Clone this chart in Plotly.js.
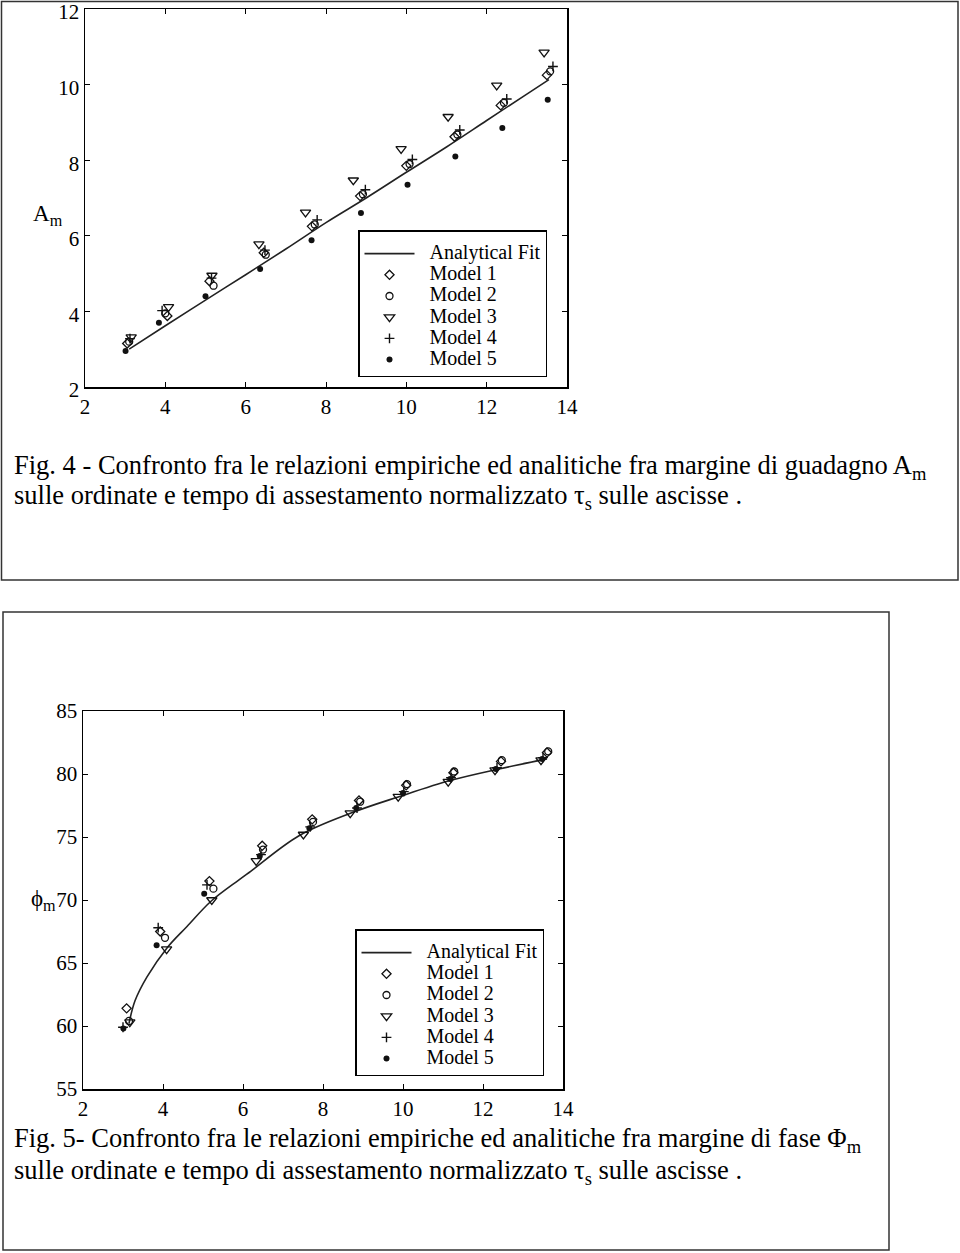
<!DOCTYPE html>
<html><head><meta charset="utf-8">
<script src="https://cdn.plot.ly/plotly-3.0.1.min.js"></script>
<style>html,body{margin:0;padding:0;background:#fff;} #chart{width:960px;height:1253px;}</style>
</head><body><div id="chart"></div>
<script>
// ---------- Fig. 4 : gain margin A_m vs normalized settling time tau_s ----------
const fit1X = [3.1, 4.0, 5.0, 6.0, 7.0, 8.0, 9.0, 10.0, 11.0, 12.0, 13.0, 13.55];
const fit1Y = [3.0, 3.62, 4.3, 4.97, 5.65, 6.35, 7.0, 7.68, 8.35, 9.05, 9.75, 10.13];
const a_m1X = [3.05, 4.05, 5.1, 6.45, 7.65, 8.85, 10.0, 11.2, 12.35, 13.5];
const a_m1Y = [3.15, 3.88, 4.8, 5.55, 6.25, 7.05, 7.85, 8.62, 9.45, 10.25];
const a_m2X = [3.1, 4.0, 5.2, 6.5, 7.72, 8.92, 10.08, 11.27, 12.43, 13.58];
const a_m2Y = [3.2, 3.95, 4.68, 5.5, 6.3, 7.1, 7.9, 8.68, 9.52, 10.35];
const a_m3X = [3.15, 4.08, 5.16, 6.33, 7.49, 8.68, 9.87, 11.04, 12.25, 13.43];
const a_m3Y = [3.32, 4.12, 4.95, 5.78, 6.62, 7.47, 8.3, 9.15, 9.98, 10.85];
const a_m4X = [3.12, 3.92, 5.15, 6.48, 7.78, 8.98, 10.15, 11.33, 12.5, 13.65];
const a_m4Y = [3.28, 4.02, 4.88, 5.62, 6.42, 7.22, 8.02, 8.8, 9.62, 10.48];
const a_m5X = [3.01, 3.84, 5.0, 6.36, 7.64, 8.87, 10.03, 11.22, 12.39, 13.52];
const a_m5Y = [2.95, 3.7, 4.4, 5.12, 5.88, 6.6, 7.35, 8.1, 8.85, 9.6];

// ---------- Fig. 5 : phase margin Phi_m vs normalized settling time tau_s ----------
const fit2X = [3.15, 3.3, 3.6, 4.1, 4.6, 5.2, 5.9, 6.2, 7.4, 8.7, 9.9, 11.2, 12.4, 13.6];
const fit2Y = [60.2, 62.0, 63.9, 66.2, 67.9, 69.9, 71.6, 72.3, 75.1, 76.9, 78.2, 79.5, 80.4, 81.2];
const p_m1X = [3.09, 3.93, 5.16, 6.48, 7.73, 8.9, 10.08, 11.26, 12.45, 13.6];
const p_m1Y = [61.4, 67.5, 71.5, 74.3, 76.4, 77.9, 79.1, 80.1, 81.0, 81.7];
const p_m2X = [3.15, 4.05, 5.26, 6.5, 7.75, 8.93, 10.1, 11.28, 12.47, 13.63];
const p_m2Y = [60.4, 67.0, 70.9, 74.0, 76.2, 77.8, 79.2, 80.2, 81.1, 81.8];
const p_m3X = [3.17, 4.09, 5.22, 6.33, 7.51, 8.68, 9.88, 11.13, 12.3, 13.45];
const p_m3Y = [60.3, 66.1, 70.0, 73.1, 75.2, 76.9, 78.2, 79.4, 80.3, 81.1];
const p_m4X = [3.0, 3.88, 5.1, 6.45, 7.68, 8.85, 10.02, 11.2, 12.35, 13.5];
const p_m4Y = [59.9, 67.8, 71.2, 73.6, 75.8, 77.3, 78.6, 79.7, 80.5, 81.3];
const p_m5X = [3.01, 3.84, 5.03, 6.42, 7.66, 8.83, 10.0, 11.18, 12.32, 13.48];
const p_m5Y = [59.8, 66.4, 70.5, 73.5, 75.7, 77.3, 78.5, 79.6, 80.4, 81.2];

const seriesNames = ['Analytical Fit', 'Model 1', 'Model 2', 'Model 3', 'Model 4', 'Model 5'];
const xTicks = [2, 4, 6, 8, 10, 12, 14];
const y1Ticks = [2, 4, 6, 8, 10, 12];
const y2Ticks = [55, 60, 65, 70, 75, 80, 85];

const caption4a = 'Fig. 4 - Confronto fra le relazioni empiriche ed analitiche fra margine di guadagno A<sub>m</sub>';
const caption4b = 'sulle ordinate e tempo di assestamento normalizzato τ<sub>s</sub> sulle ascisse .';
const caption5a = 'Fig. 5- Confronto fra le relazioni empiriche ed analitiche fra margine di fase Φ<sub>m</sub>';
const caption5b = 'sulle ordinate e tempo di assestamento normalizzato τ<sub>s</sub> sulle ascisse .';
const y1Label = 'A<sub>m</sub>';
const y2Label = 'ϕ<sub>m</sub>';

// ---------- styling ----------
const W = 960, H = 1253;
const px = v => v / W;
const py = v => 1 - v / H;
const INK = '#111';
const SERIF = 'Liberation Serif, Times New Roman, serif';

const markerStyles = [
  null,
  {symbol: 'diamond-open', size: 7, color: INK, line: {width: 1.3, color: INK}},
  {symbol: 'circle-open', size: 7, color: INK, line: {width: 1.3, color: INK}},
  {symbol: 'triangle-down-open', size: 9, color: INK, line: {width: 1.3, color: INK}},
  {symbol: 'cross-thin-open', size: 7, color: INK, line: {width: 1.4, color: INK}},
  {symbol: 'circle', size: 6, color: INK, line: {width: 0, color: INK}}
];

// legend label rendered larger than the legend's base font, keeping entries tightly spaced
const legendLabel = s => '<span style="font-size:20px">&nbsp;&nbsp;' + s + '</span>';

function buildTraces(fitX, fitY, models, xa, ya, leg) {
  const out = [{
    x: fitX, y: fitY, mode: 'lines', name: legendLabel(seriesNames[0]),
    line: {color: '#222', width: 1.6, shape: 'spline'},
    xaxis: xa, yaxis: ya, legend: leg, hoverinfo: 'skip'
  }];
  models.forEach((m, i) => {
    out.push({
      x: m[0], y: m[1], mode: 'markers', name: legendLabel(seriesNames[i + 1]),
      marker: markerStyles[i + 1], xaxis: xa, yaxis: ya, legend: leg
    });
  });
  return out;
}

const traces = [].concat(
  buildTraces(fit1X, fit1Y,
    [[a_m1X, a_m1Y], [a_m2X, a_m2Y], [a_m3X, a_m3Y], [a_m4X, a_m4Y], [a_m5X, a_m5Y]], 'x', 'y', 'legend'),
  buildTraces(fit2X, fit2Y,
    [[p_m1X, p_m1Y], [p_m2X, p_m2Y], [p_m3X, p_m3Y], [p_m4X, p_m4Y], [p_m5X, p_m5Y]], 'x2', 'y2', 'legend2')
);

function axis(domain, range, ticks, anchor, shift) {
  return {
    domain: domain, range: range, tickvals: ticks, ticktext: ticks.map(String),
    anchor: anchor, ticks: 'inside', ticklen: 5, tickwidth: 1, tickcolor: '#000',
    showline: true, linecolor: '#000', linewidth: 1.5, mirror: 'ticks',
    showgrid: false, zeroline: false, fixedrange: true, ticklabeloverflow: 'allow',
    ticklabelshift: shift || 0,
    tickfont: {family: SERIF, size: 21, color: '#000'}
  };
}

const legendStyle = {
  xanchor: 'left', yanchor: 'top', bgcolor: '#fff',
  bordercolor: '#000', borderwidth: 1.5,
  font: {family: SERIF, size: 14, color: '#000'},
  title: {text: '&#8203;', font: {family: SERIF, size: 5, color: '#fff'}},
  itemwidth: 50, tracegroupgap: 0
};

const capFont = {family: SERIF, size: 26.5, color: '#000'};
function cap(text, x, y) {
  return {text: text, x: px(x), y: py(y), xref: 'paper', yref: 'paper',
    xanchor: 'left', yanchor: 'middle', showarrow: false, font: capFont, align: 'left'};
}

const layout = {
  width: W, height: H, margin: {l: 0, r: 0, t: 0, b: 0},
  paper_bgcolor: '#fff', plot_bgcolor: '#fff', showlegend: true,
  xaxis: axis([px(85), px(567)], [2, 14], xTicks, 'y'),
  yaxis: axis([py(387), py(9)], [2, 12], y1Ticks, 'x', 3),
  xaxis2: axis([px(83), px(563)], [2, 14], xTicks, 'y2'),
  yaxis2: axis([py(1089), py(711)], [55, 85], y2Ticks, 'x2'),
  legend: Object.assign({x: px(358), y: py(230)}, legendStyle),
  legend2: Object.assign({x: px(355), y: py(929)}, legendStyle),
  shapes: [
    {type: 'rect', xref: 'paper', yref: 'paper', x0: px(1.5), x1: px(958), y0: py(580), y1: py(1.5),
      line: {color: '#333', width: 1.5}, fillcolor: 'rgba(0,0,0,0)', layer: 'below'},
    {type: 'rect', xref: 'paper', yref: 'paper', x0: px(3), x1: px(889), y0: py(1250), y1: py(612),
      line: {color: '#333', width: 1.5}, fillcolor: 'rgba(0,0,0,0)', layer: 'below'}
  ],
  annotations: [
    {text: y1Label, x: px(48), y: py(215), xref: 'paper', yref: 'paper', showarrow: false,
      xanchor: 'center', yanchor: 'middle', font: {family: SERIF, size: 23, color: '#000'}},
    {text: y2Label, x: px(43), y: py(900), xref: 'paper', yref: 'paper', showarrow: false,
      xanchor: 'center', yanchor: 'middle', font: {family: SERIF, size: 23, color: '#000'}},
    cap(caption4a, 12, 467), cap(caption4b, 12, 497),
    cap(caption5a, 12, 1140), cap(caption5b, 12, 1172)
  ]
};

Plotly.newPlot('chart', traces, layout, {displayModeBar: false, staticPlot: true});
</script></body></html>
